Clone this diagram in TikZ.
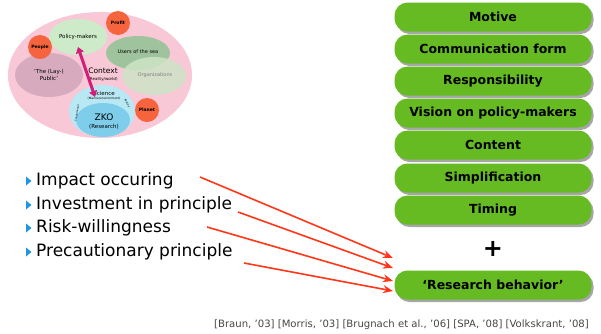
\documentclass[tikz,border=0pt]{standalone}
\usepackage{fontspec}
\setmainfont{DejaVu Sans}
\usetikzlibrary{shadows,arrows.meta}
\definecolor{boxgreen}{RGB}{102,187,34}
\definecolor{arrred}{RGB}{255,55,25}
\definecolor{bulblue}{RGB}{30,150,225}
\definecolor{citegray}{RGB}{70,70,70}
\definecolor{pinkbg}{RGB}{248,200,215}
\definecolor{pmgreen}{RGB}{205,235,200}
\definecolor{usgreen}{RGB}{150,195,150}
\definecolor{orggreen}{RGB}{205,228,198}
\definecolor{pubmauve}{RGB}{215,170,190}
\definecolor{sciblue}{RGB}{185,232,245}
\definecolor{zkoblue}{RGB}{125,205,235}
\definecolor{orangec}{RGB}{245,100,60}
\definecolor{magarr}{RGB}{210,30,120}
\tikzset{
  gbox/.style={draw=none, fill=boxgreen, rounded corners=13pt, minimum width=197pt, minimum height=29pt,
    font=\bfseries\fontsize{12.5}{14}\selectfont, text=black,
    drop shadow={opacity=0.7, shadow xshift=2pt, shadow yshift=-2.5pt}},
  bul/.style={anchor=west, font=\fontsize{17}{19}\selectfont, text=black, inner sep=0pt},
  rarr/.style={draw=arrred, line width=1.6pt, -{Stealth[length=10pt,width=8pt]}},
  orc/.style={circle, fill=orangec, minimum size=24pt, inner sep=0pt, font=\bfseries\fontsize{4.5}{5}\selectfont},
  tiny/.style={font=\fontsize{5}{6}\selectfont, inner sep=0pt, align=center}
}
\begin{document}
\begin{tikzpicture}[x=1pt,y=-1pt]
\useasboundingbox (0,0) rectangle (601,333);
% upper-left diagram
\fill[pinkbg] (100,75) ellipse [x radius=92, y radius=63];
\fill[pubmauve] (49,75) ellipse [x radius=34, y radius=22];
\node[tiny, font=\fontsize{5.5}{6.5}\selectfont] (pub) at (49,75) {`The (Lay-)\\Public'};
\fill[pmgreen] (78,37) ellipse [x radius=29, y radius=18];
\node[tiny, font=\fontsize{5.5}{6.5}\selectfont] (pm) at (78,37) {Policy-makers};
\fill[usgreen, opacity=0.9] (138,53) ellipse [x radius=32, y radius=17];
\node[tiny] (us) at (138,52) {Users of the sea};
\fill[orggreen, opacity=0.85] (154,76) ellipse [x radius=32, y radius=19];
\node[tiny, text=gray] (org) at (155,75) {Organizations};
\node[tiny, font=\fontsize{7.5}{8}\selectfont] (ctx) at (103,71) {Context};
\node[tiny, font=\fontsize{4}{5}\selectfont] (ctx2) at (103,79) {(Reality/world)};
\fill[sciblue] (102,111) ellipse [x radius=33, y radius=26];
\fill[zkoblue] (103,120) ellipse [x radius=27, y radius=17];
\node[tiny, font=\fontsize{5.5}{6}\selectfont] (sci) at (104,93) {Science};
\node[tiny, font=\fontsize{3}{4}\selectfont] (sci2) at (104,99) {(Marine/environment)};
\node[tiny, font=\fontsize{2.5}{3}\selectfont, rotate=80] (fund) at (77,113) {Fundamental};
\node[tiny, font=\fontsize{2.5}{3}\selectfont, rotate=-65] (appl) at (127,103) {Applied};
\node[tiny, font=\fontsize{9}{10}\selectfont] (zko) at (104,117) {ZKO};
\node[tiny, font=\fontsize{5.5}{6}\selectfont] (res) at (104,127) {(Research)};
\node[orc] (profit) at (118,23) {Profit};
\node[orc] (people) at (40,47) {People};
\node[orc] (planet) at (147,110) {Planet};
\coordinate (ma) at (78,47);
\coordinate (mb) at (95,97);
\draw[magarr, line width=3pt, {Triangle[length=6pt,width=8pt]}-{Triangle[length=6pt,width=8pt]}] (ma) -- (mb);
% green boxes
\node[gbox] (b1) at (493,17) {Motive};
\node[gbox] (b2) at (493,49) {Communication form};
\node[gbox] (b3) at (493,81) {Responsibility};
\node[gbox] (b4) at (493,113) {Vision on policy-makers};
\node[gbox] (b5) at (493,145) {Content};
\node[gbox] (b6) at (493,178) {Simplification};
\node[gbox] (b7) at (493,210) {Timing};
\node[font=\bfseries\fontsize{24}{24}\selectfont] (plus) at (493,249) {+};
\node[gbox] (b8) at (493,285) {`Research behavior'};
% bullets
\foreach \y/\n/\t in {181/i1/Impact occuring, 205/i2/Investment in principle, 228/i3/Risk-willingness, 252/i4/Precautionary principle}{
  \fill[bulblue] (26,\y-4.5) -- (31.5,\y) -- (26,\y+4.5) -- cycle;
  \node[bul] (\n) at (36,\y) {\t};
}
% arrows
\coordinate (s1) at (200,177);
\coordinate (s2) at (238,212);
\coordinate (s3) at (207,227);
\coordinate (s4) at (244,263);
\coordinate (e1) at (393,258);
\coordinate (e2) at (393,268);
\coordinate (e3) at (393,281);
\coordinate (e4) at (393,291);
\draw[rarr] (s1) -- (e1);
\draw[rarr] (s2) -- (e2);
\draw[rarr] (s3) -- (e3);
\draw[rarr] (s4) -- (e4);
% citation
\node[anchor=east, text=citegray, font=\fontsize{10.1}{11}\selectfont, inner sep=0pt] (cite) at (589,325) {[Braun, '03] [Morris, '03] [Brugnach et al., '06] [SPA, '08] [Volkskrant, '08]};
\end{tikzpicture}
\end{document}
